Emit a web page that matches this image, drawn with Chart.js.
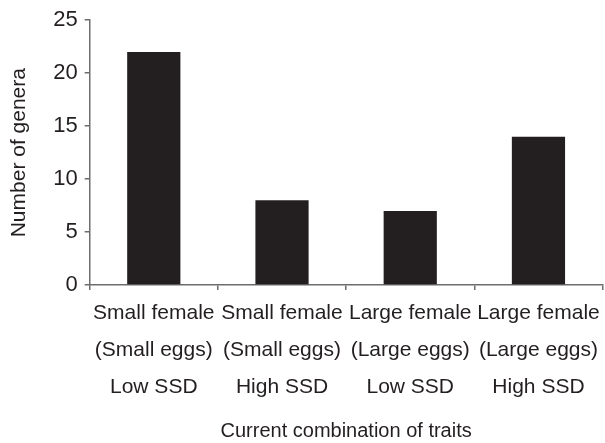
<!DOCTYPE html>
<html>
<head>
<meta charset="utf-8">
<script src="https://cdn.jsdelivr.net/npm/chart.js@4"></script>
<style>
  html, body { margin: 0; padding: 0; background: #fff; }
  #wrap { width: 605px; height: 443px; }
</style>
</head>
<body>
<div id="wrap"><canvas id="chart"></canvas></div>
<script>
// chart data
var categories = [
    ['Small female', '(Small eggs)', 'Low SSD'],
    ['Small female', '(Small eggs)', 'High SSD'],
    ['Large female', '(Large eggs)', 'Low SSD'],
    ['Large female', '(Large eggs)', 'High SSD']
];
var genera = [22, 8, 7, 14];
var yTicks = [0, 5, 10, 15, 20, 25];

var ink = '#231f20';
var axisGrey = '#6d6d6d';
var fontFamily = '"Liberation Sans", Arial, Helvetica, sans-serif';

new Chart(document.getElementById('chart'), {
    type: 'bar',
    data: {
        labels: categories,
        datasets: [{
            data: genera,
            backgroundColor: ink,
            borderWidth: 0,
            categoryPercentage: 1,
            barPercentage: 0.415
        }]
    },
    options: {
        responsive: true,
        maintainAspectRatio: false,
        animation: false,
        devicePixelRatio: 1,
        layout: { padding: { top: 17, right: 2, bottom: 0, left: 0 } },
        plugins: {
            legend: { display: false },
            tooltip: { enabled: false }
        },
        scales: {
            x: {
                offset: true,
                border: { color: axisGrey, width: 1.5 },
                grid: {
                    offset: true,
                    drawOnChartArea: false,
                    drawTicks: true,
                    tickLength: 5,
                    color: axisGrey,
                    lineWidth: 1.5
                },
                ticks: {
                    color: ink,
                    padding: 5,
                    maxRotation: 0,
                    autoSkip: false,
                    font: { family: fontFamily, size: 21, lineHeight: 1.76 }
                },
                title: {
                    display: true,
                    text: 'Current combination of traits',
                    color: ink,
                    padding: { top: 8, bottom: 0 },
                    font: { family: fontFamily, size: 20 }
                }
            },
            y: {
                min: 0,
                max: 25,
                afterBuildTicks: function (axis) {
                    axis.ticks = yTicks.map(function (v) { return { value: v }; });
                },
                border: { color: axisGrey, width: 1.5 },
                grid: {
                    drawOnChartArea: false,
                    drawTicks: true,
                    tickLength: 5,
                    color: axisGrey,
                    lineWidth: 1.5
                },
                ticks: {
                    color: ink,
                    padding: 7,
                    font: { family: fontFamily, size: 22 }
                },
                title: {
                    display: true,
                    text: 'Number of genera',
                    color: ink,
                    padding: { top: 7, bottom: 14 },
                    font: { family: fontFamily, size: 21 }
                }
            }
        }
    }
});
</script>
</body>
</html>
